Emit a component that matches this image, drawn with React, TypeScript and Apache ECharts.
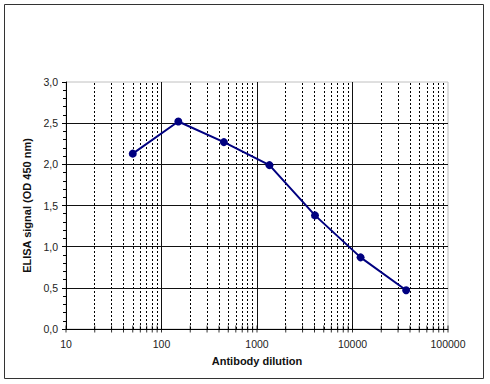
import React, { useEffect, useRef } from "react";
import * as echarts from "echarts";

const dilutions = [50, 150, 450, 1350, 4050, 12150, 36450];
const signals = [2.13, 2.52, 2.27, 1.99, 1.38, 0.87, 0.47];
const majorX = [10, 100, 1000, 10000, 100000];
const minorX = [20, 30, 40, 50, 60, 70, 80, 90, 200, 300, 400, 500, 600, 700, 800, 900, 2000, 3000, 4000, 5000, 6000, 7000, 8000, 9000, 20000, 30000, 40000, 50000, 60000, 70000, 80000, 90000];
const xTitle = "Antibody dilution";
const yTitle = "ELISA signal (OD 450 nm)";

const FONT = "Arial, 'Liberation Sans', sans-serif";

export default function App() {
  const ref = useRef<HTMLDivElement>(null);
  useEffect(() => {
    if (!ref.current) return;
    const chart = echarts.init(ref.current, null, { renderer: "svg" });
    const tickData = [...majorX, ...minorX].map((v) => [v, 0]);
    chart.setOption({
      animation: false,
      backgroundColor: "#fff",
      graphic: [
        {
          type: "rect",
          shape: { x: 4.5, y: 4.5, width: 479, height: 374 },
          style: { fill: "none", stroke: "#333", lineWidth: 1 },
          silent: true,
          z: 0,
        },
      ],
      grid: {
        left: 66,
        top: 82,
        width: 382,
        height: 247,
        show: true,
        borderColor: "#c0c0c0",
        borderWidth: 1,
        backgroundColor: "transparent",
      },
      xAxis: {
        type: "log",
        logBase: 10,
        min: 10,
        max: 100000,
        name: xTitle,
        nameLocation: "middle",
        nameGap: 26,
        nameTextStyle: { fontFamily: FONT, fontSize: 11, fontWeight: "bold", color: "#111" },
        axisLine: { show: true, lineStyle: { color: "#000", width: 1 } },
        axisTick: { show: false },
        minorTick: { show: false },
        axisLabel: {
          fontFamily: FONT,
          fontSize: 10.5,
          color: "#222",
          margin: 9,
          formatter: (v: number) => String(Math.round(v)),
        },
        splitLine: {
          show: true,
          showMinLine: false,
          showMaxLine: false,
          lineStyle: { color: "#111", width: 1, type: "solid" },
        },
      },
      yAxis: {
        type: "value",
        min: 0,
        max: 3,
        interval: 0.5,
        name: yTitle,
        nameLocation: "middle",
        nameGap: 30,
        nameTextStyle: { fontFamily: FONT, fontSize: 11, fontWeight: "bold", color: "#111" },
        axisLine: { show: true, lineStyle: { color: "#000", width: 1 } },
        axisTick: { show: true, length: 4, lineStyle: { color: "#000" } },
        minorTick: { show: true, splitNumber: 5, length: 3, lineStyle: { color: "#000" } },
        axisLabel: {
          fontFamily: FONT,
          fontSize: 10.5,
          color: "#222",
          margin: 8,
          formatter: (v: number) => v.toFixed(1).replace(".", ","),
        },
        splitLine: {
          show: true,
          showMinLine: false,
          showMaxLine: false,
          lineStyle: { color: "#111", width: 1 },
        },
      },
      series: [
        {
          type: "scatter",
          name: "ticks",
          data: tickData,
          symbol: "rect",
          symbolSize: [1, 7],
          itemStyle: { color: "#000" },
          silent: true,
          clip: false,
          z: 1,
          markLine: {
            silent: true,
            symbol: ["none", "none"],
            label: { show: false },
            lineStyle: { color: "#000", width: 1, type: [2, 2] },
            data: minorX.map((v) => ({ xAxis: v })),
          },
        },
        {
          type: "line",
          name: "ELISA",
          data: dilutions.map((d, i) => [d, signals[i]]),
          symbol: "circle",
          symbolSize: 8,
          lineStyle: { color: "#000080", width: 2 },
          itemStyle: { color: "#000080" },
          z: 5,
        },
      ],
    });
    return () => chart.dispose();
  }, []);
  return (
    <div
      ref={ref}
      style={{ position: "absolute", left: 0, top: 0, width: 490, height: 384, background: "#fff" }}
    />
  );
}
